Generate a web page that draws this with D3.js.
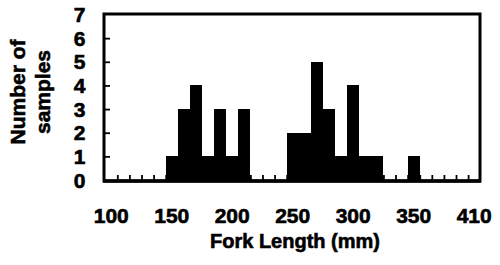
<!DOCTYPE html>
<html>
<head>
<meta charset="utf-8">
<script src="https://cdn.jsdelivr.net/npm/d3@7"></script>
<style>
  html, body { margin: 0; padding: 0; background: #fff; }
  svg { display: block; }
  text { font-family: "Liberation Sans", Arial, Helvetica, sans-serif; font-weight: bold; fill: #000; stroke: #000; stroke-width: 0.6px; }
</style>
</head>
<body>
<script>
// ---- data ----
const binCenters = [150, 160, 170, 180, 190, 200, 210, 250, 260, 270, 280, 290, 300, 310, 320, 350];
const counts     = [1,   3,   4,   1,   3,   1,   3,   2,   2,   5,   3,   1,   4,   1,   1,   1];
const binWidth = 10;
const xTickValues = [100, 150, 200, 250, 300, 350, 400];
const xTickLabels = ["100", "150", "200", "250", "300", "350", "410"];
const yTickValues = [0, 1, 2, 3, 4, 5, 6, 7];
const xTitle = "Fork Length (mm)";
const yTitleLines = ["Number of", "samples"];

const W = 500, H = 265;
const svg = d3.select("body").append("svg").attr("width", W).attr("height", H);

const x = d3.scaleLinear().domain([94, 404]).range([104, 479]);
const y = d3.scaleLinear().domain([0, 7]).range([180, 14.5]);

// bars
svg.append("g").selectAll("rect")
  .data(binCenters.map((c, i) => ({ c, v: counts[i] })))
  .join("rect")
  .attr("x", d => x(d.c - binWidth / 2))
  .attr("width", d => x(d.c + binWidth / 2) - x(d.c - binWidth / 2))
  .attr("y", d => y(d.v))
  .attr("height", d => y(0) - y(d.v) + 1)
  .attr("fill", "#000")
  .attr("shape-rendering", "crispEdges");

// minor ticks on bottom (inward)
const minor = d3.range(105, 400, 10);
const bottomAxis = d3.axisBottom(x).tickValues(minor).tickSize(-6).tickFormat("");
const gb = svg.append("g").attr("transform", "translate(0,181)").call(bottomAxis);
gb.select(".domain").remove();
gb.selectAll(".tick line").attr("stroke", "#000").attr("stroke-width", 1.8);

// left ticks (inward)
const leftAxis = d3.axisLeft(y).tickValues(yTickValues.slice(1, -1)).tickSize(-6).tickFormat("");
const gl = svg.append("g").attr("transform", "translate(104,0)").call(leftAxis);
gl.select(".domain").remove();
gl.selectAll(".tick line").attr("stroke", "#000").attr("stroke-width", 1.8);

// frame
svg.append("rect")
  .attr("x", 104).attr("y", 14)
  .attr("width", 376).attr("height", 167)
  .attr("fill", "none").attr("stroke", "#000").attr("stroke-width", 3);
svg.append("line")
  .attr("x1", 103).attr("x2", 481).attr("y1", 181).attr("y2", 181)
  .attr("stroke", "#000").attr("stroke-width", 3.5);

// y tick labels
svg.append("g").selectAll("text")
  .data(yTickValues)
  .join("text")
  .attr("x", 79.5)
  .attr("y", d => y(d))
  .attr("dy", "0.36em")
  .attr("text-anchor", "middle")
  .attr("font-size", 21)
  .text(d => d);

// x tick labels
svg.append("g").selectAll("text")
  .data(xTickValues)
  .join("text")
  .attr("x", d => x(d))
  .attr("y", 223)
  .attr("text-anchor", "middle")
  .attr("font-size", 21)
  .text((d, i) => xTickLabels[i]);

// x title
svg.append("text")
  .attr("x", 295).attr("y", 248)
  .attr("text-anchor", "middle")
  .attr("font-size", 20)
  .text(xTitle);

// y title (rotated, two lines)
yTitleLines.forEach((t, i) => {
  svg.append("text")
    .attr("transform", `translate(${i === 0 ? 25 : 50},92) rotate(-90)`)
    .attr("text-anchor", "middle")
    .attr("font-size", 21)
    .text(t);
});
</script>
</body>
</html>
